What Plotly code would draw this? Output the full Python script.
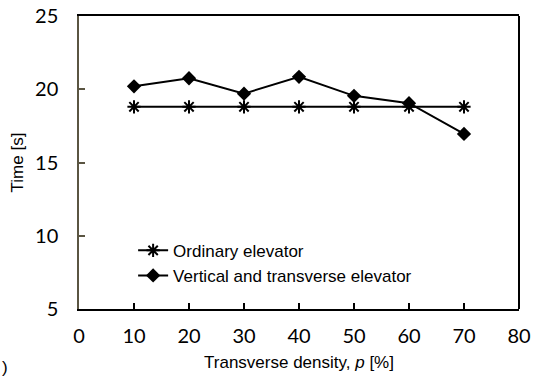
import plotly.graph_objects as go

density = [10, 20, 30, 40, 50, 60, 70]
ordinary = [18.8, 18.8, 18.8, 18.8, 18.8, 18.8, 18.8]
vertical_transverse = [20.2, 20.75, 19.7, 20.85, 19.55, 19.05, 16.95]

x_ticks = [0, 10, 20, 30, 40, 50, 60, 70, 80]
y_ticks = [5, 10, 15, 20, 25]

fig = go.Figure()
fig.add_trace(go.Scatter(
    x=density, y=ordinary, mode="lines+markers", name="Ordinary elevator",
    line=dict(color="black", width=2),
    marker=dict(symbol="asterisk-open", size=11, color="black",
                line=dict(color="black", width=2)),
))
fig.add_trace(go.Scatter(
    x=density, y=vertical_transverse, mode="lines+markers",
    name="Vertical and transverse elevator",
    line=dict(color="black", width=2),
    marker=dict(symbol="diamond", size=11, color="black"),
))

fig.update_layout(
    width=545, height=378,
    margin=dict(l=79, r=26, t=16, b=69),
    paper_bgcolor="white", plot_bgcolor="white",
    font=dict(family="Liberation Sans, Arial, sans-serif", size=17, color="black"),
    showlegend=True,
    legend=dict(x=0.123, y=0.26, xanchor="left", yanchor="top",
                bgcolor="rgba(0,0,0,0)", font=dict(size=17),
                tracegroupgap=0, itemwidth=30),
    xaxis=dict(
        range=[0, 80], tickvals=x_ticks, ticktext=[str(v) for v in x_ticks],
        showgrid=False, zeroline=False, automargin=False,
        showline=True, linecolor="black", linewidth=2, mirror=True,
        ticks="inside", ticklen=6, tickwidth=1.5, tickcolor="black",
        tickfont=dict(family="Lato, sans-serif", size=20),
        ticklabelstandoff=8,
        title=dict(text="Transverse density, <i>p</i> [%]", standoff=10,
                   font=dict(size=17)),
    ),
    yaxis=dict(
        range=[5, 25], tickvals=y_ticks, ticktext=[str(v) for v in y_ticks],
        showgrid=False, zeroline=False, automargin=False,
        showline=True, linecolor="#5a5542", linewidth=1.5, mirror=False,
        ticks="inside", ticklen=6, tickwidth=1.5, tickcolor="#5a5542",
        tickfont=dict(family="Lato, sans-serif", size=20),
        ticklabelstandoff=15,
        title=dict(text="Time [s]", standoff=7, font=dict(size=17)),
    ),
    shapes=[dict(type="line", xref="paper", yref="paper", x0=1, x1=1, y0=0, y1=1,
                 line=dict(color="black", width=2))],
    annotations=[dict(text=")", xref="paper", yref="paper", x=-79/440, y=-58/293,
                      xanchor="left", yanchor="middle", showarrow=False,
                      font=dict(size=17))],
)

fig.write_html("out.html")
